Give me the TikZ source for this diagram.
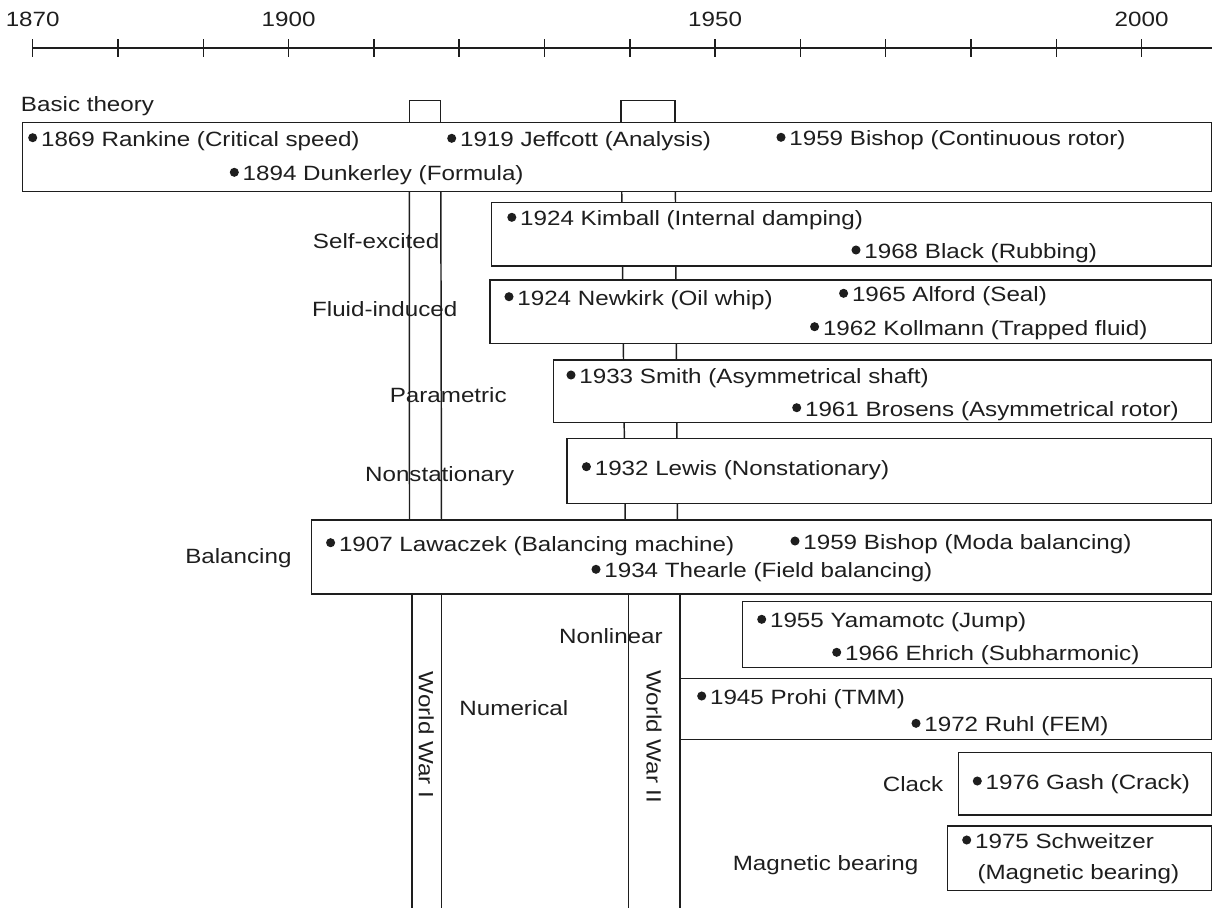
\documentclass[tikz,border=0pt]{standalone}
\usepackage{fontspec}
\setmainfont{Liberation Sans}[FakeStretch=1.17]
\definecolor{ink}{RGB}{30,30,30}
\begin{document}
\begin{tikzpicture}[x=0.75pt,y=-0.75pt,
  every node/.style={font=\fontsize{15.5pt}{18pt}\selectfont, text=ink, inner sep=0pt, outer sep=0pt},
  ln/.style={draw=ink, line width=1.1pt},
  axisline/.style={draw=ink, line width=1.5pt},
  tickline/.style={draw=ink, line width=1.1pt},
  catbox/.style={draw=ink, line width=1.1pt, fill=white},
  yearlab/.style={anchor=base},
  catlab/.style={anchor=base east},
  evtxt/.style={anchor=base west, xshift=6.3pt, yshift=-6.5pt},
  evdot/.style={circle, fill=ink, minimum size=6.8pt, inner sep=0pt},
  warlab/.style={rotate=-90, anchor=center}
]
\useasboundingbox (0,0) rectangle (1213,908);
\newcommand\evt[4]{\node[evdot] (#1d) at (#2,#3) {}; \node[evtxt] (#1) at (#2,#3) {#4};}

% time axis
\draw[axisline] (32.7,47.7) -- (1212,47.7);
\foreach \i in {0,...,13} \draw[tickline] ({32.7+\i*85.3},39.3) -- ({32.7+\i*85.3},57.3);
\node[yearlab] (y1870) at (32.7,26) {1870};
\node[yearlab] (y1900) at (288.6,26) {1900};
\node[yearlab] (y1950) at (715.1,26) {1950};
\node[yearlab] (y2000) at (1141.6,26) {2000};

% world war bands
\draw[ln] (409.3,100.7) rectangle (440.7,122.3);
\draw[ln] (621,100.7) rectangle (675,122.3);
\draw[ln] (409.3,122.3) -- (409.5,530);
\draw[ln] (440.7,122.3) -- (441.5,530);
\draw[ln] (621,122.3) -- (625.3,530);
\draw[ln] (675,122.3) -- (677.5,530);
\draw[ln] (411.8,590) -- (411.8,908);
\draw[ln] (441.7,590) -- (441.7,908);
\draw[ln] (628.7,590) -- (628.7,908);
\draw[ln] (680,590) -- (680,908);

% category boxes
\draw[catbox] (22.7,122.3) rectangle (1211.6,191.7);
\draw[catbox] (491.7,202.7) rectangle (1211.6,266);
\draw[catbox] (490,280) rectangle (1211.6,343.3);
\draw[catbox] (553.7,360) rectangle (1211.6,422.7);
\draw[catbox] (567,438.3) rectangle (1211.6,503.3);
\draw[catbox] (311.3,520) rectangle (1211.6,594);
\draw[catbox] (742.7,601.7) rectangle (1211.6,667.3);
\draw[ln] (680,678.3) -- (1211.6,678.3) -- (1211.6,739.3) -- (680,739.3);
\draw[catbox] (958.3,752.3) rectangle (1211.6,815);
\draw[catbox] (947.3,826) rectangle (1211.6,890.7);

% category labels
\node[anchor=base west] (lbasic) at (21,111.7) {Basic theory};
\node[catlab] (lself) at (439.3,248.3) {Self-excited};
\node[catlab] (lfluid) at (457.3,316.7) {Fluid-induced};
\node[catlab] (lparam) at (506.7,402.7) {Parametric};
\node[catlab] (lnonst) at (514.3,481.7) {Nonstationary};
\node[catlab] (lbal) at (291.5,563) {Balancing};
\node[catlab] (lnonlin) at (662.7,643.3) {Nonlinear};
\node[catlab] (lnum) at (568.3,715) {Numerical};
\node[catlab] (lclack) at (943.3,791.7) {Clack};
\node[catlab] (lmag) at (918.3,870) {Magnetic bearing};
\node[warlab] (ww1) at (426.3,735) {World War I};
\node[warlab] (ww2) at (654,736.7) {World War II};

% events
\evt{rankine}{32.7}{137.7}{1869 Rankine (Critical speed)}
\evt{dunkerley}{234.3}{172.3}{1894 Dunkerley (Formula)}
\evt{jeffcott}{451.7}{138.3}{1919 Jeffcott (Analysis)}
\evt{bishopa}{781}{137.3}{1959 Bishop (Continuous rotor)}
\evt{kimball}{511.8}{217.3}{1924 Kimball (Internal damping)}
\evt{black}{856}{250}{1968 Black (Rubbing)}
\evt{newkirk}{509}{296.7}{1924 Newkirk (Oil whip)}
\evt{alford}{843.6}{293.3}{1965 Alford (Seal)}
\evt{kollmann}{814.6}{326.7}{1962 Kollmann (Trapped fluid)}
\evt{smith}{571}{375}{1933 Smith (Asymmetrical shaft)}
\evt{brosens}{796.7}{407.7}{1961 Brosens (Asymmetrical rotor)}
\evt{lewis}{586.4}{466.7}{1932 Lewis (Nonstationary)}
\evt{lawaczek}{330.6}{542.7}{1907 Lawaczek (Balancing machine)}
\evt{bishopb}{795}{541}{1959 Bishop (Moda balancing)}
\evt{thearle}{596}{569.3}{1934 Thearle (Field balancing)}
\evt{yamamotc}{761.7}{619.3}{1955 Yamamotc (Jump)}
\evt{ehrich}{836.7}{652.3}{1966 Ehrich (Subharmonic)}
\evt{prohi}{701.7}{696}{1945 Prohi (TMM)}
\evt{ruhl}{916}{723.3}{1972 Ruhl (FEM)}
\evt{gash}{977.3}{781}{1976 Gash (Crack)}
\evt{schweitzer}{966.7}{840}{1975 Schweitzer}
\node[anchor=base west] (schweitzerb) at (977.5,879) {(Magnetic bearing)};
\end{tikzpicture}
\end{document}
